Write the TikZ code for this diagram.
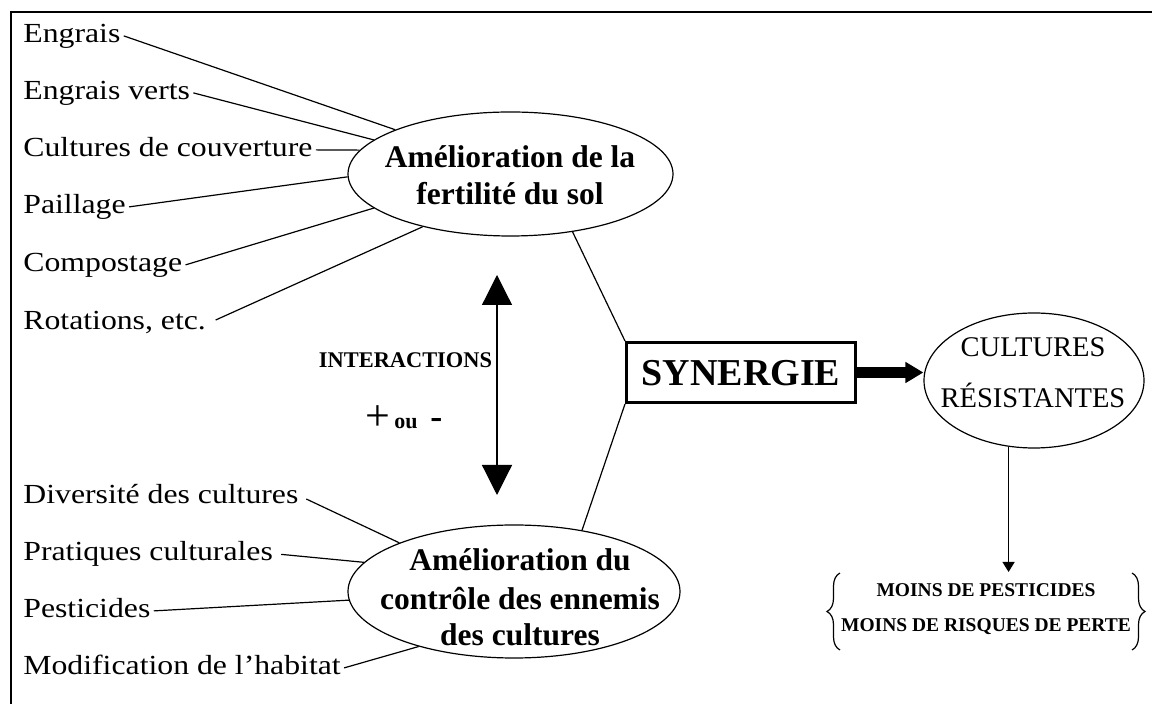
\documentclass[tikz,border=0pt]{standalone}
\usepackage{fontspec}
\setmainfont{Liberation Serif}
\newfontfamily\labfont[FakeStretch=1.15]{Liberation Serif}
\usetikzlibrary{shapes.geometric,arrows.meta,decorations.pathreplacing}
\begin{document}
\begin{tikzpicture}[x=0.5pt,y=-0.5pt,
  thinline/.style={line width=0.6pt},
  lab/.style={anchor=base west, inner xsep=1.5pt, inner ysep=0pt, text height=9.8pt, text depth=2.7pt, font=\labfont\fontsize{13.8}{15}\selectfont},
  oval/.style={draw, ellipse, line width=0.6pt, inner sep=0pt},
  bigtxt/.style={anchor=base, inner sep=0pt, font=\bfseries\fontsize{15.75}{18}\selectfont},
  crtxt/.style={anchor=base, inner sep=0pt, font=\fontsize{14.25}{16}\selectfont},
  moins/.style={anchor=base, inner sep=0pt, font=\bfseries\fontsize{9.75}{11}\selectfont},
]
\useasboundingbox (0,0) rectangle (1152,704);
% frame
\coordinate (fBL) at (11,704);
\coordinate (fTL) at (11,12);
\coordinate (fTR) at (1152,12);
\draw[line width=1pt] (fBL) -- (fTL) -- (fTR);

% ellipses
\node[oval, minimum width=162.5pt, minimum height=62pt] (fert) at (510.5,174) {};
\node[oval, minimum width=166pt, minimum height=66.5pt] (ctrl) at (514,591.5) {};
\node[oval, minimum width=110pt, minimum height=67.5pt] (cr) at (1034,380.5) {};

\node[bigtxt] (fert1) at (510,168) {Amélioration de la};
\node[bigtxt] (fert2) at (510,205) {fertilité du sol};
\node[bigtxt] (ctrl1) at (520,571) {Amélioration du};
\node[bigtxt] (ctrl2) at (520,610) {contrôle des ennemis};
\node[bigtxt] (ctrl3) at (520,646) {des cultures};
\node[crtxt] (cr1) at (1033,357) {CULTURES};
\node[crtxt] (cr2) at (1033,408) {RÉSISTANTES};

% left labels (top)
\node[lab] (l1) at (20,43) {Engrais};
\node[lab] (l2) at (20,100) {Engrais verts};
\node[lab] (l3) at (20,157) {Cultures de couverture};
\node[lab] (l4) at (20,214) {Paillage};
\node[lab] (l5) at (20,272) {Compostage};
\node[lab] (l6) at (20,330) {Rotations, etc.};
\draw[thinline] (l1.east) -- (fert.159.1);
\draw[thinline] (l2.east) -- (fert.166.5);
\draw[thinline] (l3.east) -- (fert.171);
\draw[thinline] (l4.east) -- (fert.181.8);
\draw[thinline] (l5.east) -- (fert.194.3);
\draw[thinline, shorten <=3.5pt] (l6.east) -- (fert.211.8);

% left labels (bottom)
\node[lab] (b1) at (20,504) {Diversité des cultures};
\node[lab] (b2) at (20,561) {Pratiques culturales};
\node[lab] (b3) at (20,618) {Pesticides};
\node[lab] (b4) at (20,675) {Modification de l’habitat};
\draw[thinline, shorten <=2.5pt] (b1.east) -- (ctrl.157.7);
\draw[thinline, shorten <=2.5pt] (b2.east) -- (ctrl.169.9);
\draw[thinline] (b3.east) -- (ctrl.183.8);
\draw[thinline] (b4.east) -- (ctrl.210.8);

% interactions
\coordinate (iaT) at (497,275);
\coordinate (iaB) at (497,495);
\draw[thinline, {Triangle[length=15pt,width=15pt]}-{Triangle[length=15pt,width=15pt]}] (iaT) -- (iaB);
\node[anchor=base, inner sep=0pt, font=\bfseries\fontsize{11.2}{13}\selectfont] (inter) at (405.5,368) {INTERACTIONS};
\node[anchor=base west, inner sep=0pt, font=\fontsize{22}{24}\selectfont] (plus) at (365,431) {+};
\node[anchor=base west, inner sep=0pt, font=\bfseries\fontsize{11}{12}\selectfont] (ou) at (394,429) {ou};
\node[anchor=base west, inner sep=0pt, font=\bfseries\fontsize{18}{20}\selectfont] (minus) at (430,429) {-};

% synergie
\node[draw, line width=1.5pt, minimum width=114.5pt, minimum height=30pt, inner sep=0pt, text depth=0pt, font=\bfseries\fontsize{19}{22}\selectfont] (syn) at (741,372.5) {SYNERGIE};
\draw[thinline] (syn.north west) -- (fert.317);
\draw[thinline] (syn.south west) -- (ctrl.42.5);
\draw[line width=5.5pt, -{Triangle[length=9pt,width=10pt]}] (syn.east) -- (syn.east -| cr.west);

% result
\coordinate (mt) at (1010,572);
\draw[thinline, -{Triangle[length=5pt,width=6pt]}] (cr.249.6) -- (cr.249.6 |- mt);
\node[moins] (m1) at (986,597) {MOINS DE PESTICIDES};
\node[moins] (m2) at (986,632) {MOINS DE RISQUES DE PERTE};
\coordinate (lbB) at (840,650);
\coordinate (lbT) at (840,573);
\coordinate (rbT) at (1132,573);
\coordinate (rbB) at (1132,650);
\draw[thinline, decorate, decoration={brace, amplitude=6.5pt}] (lbB) -- (lbT);
\draw[thinline, decorate, decoration={brace, amplitude=6.5pt}] (rbT) -- (rbB);
\end{tikzpicture}
\end{document}
